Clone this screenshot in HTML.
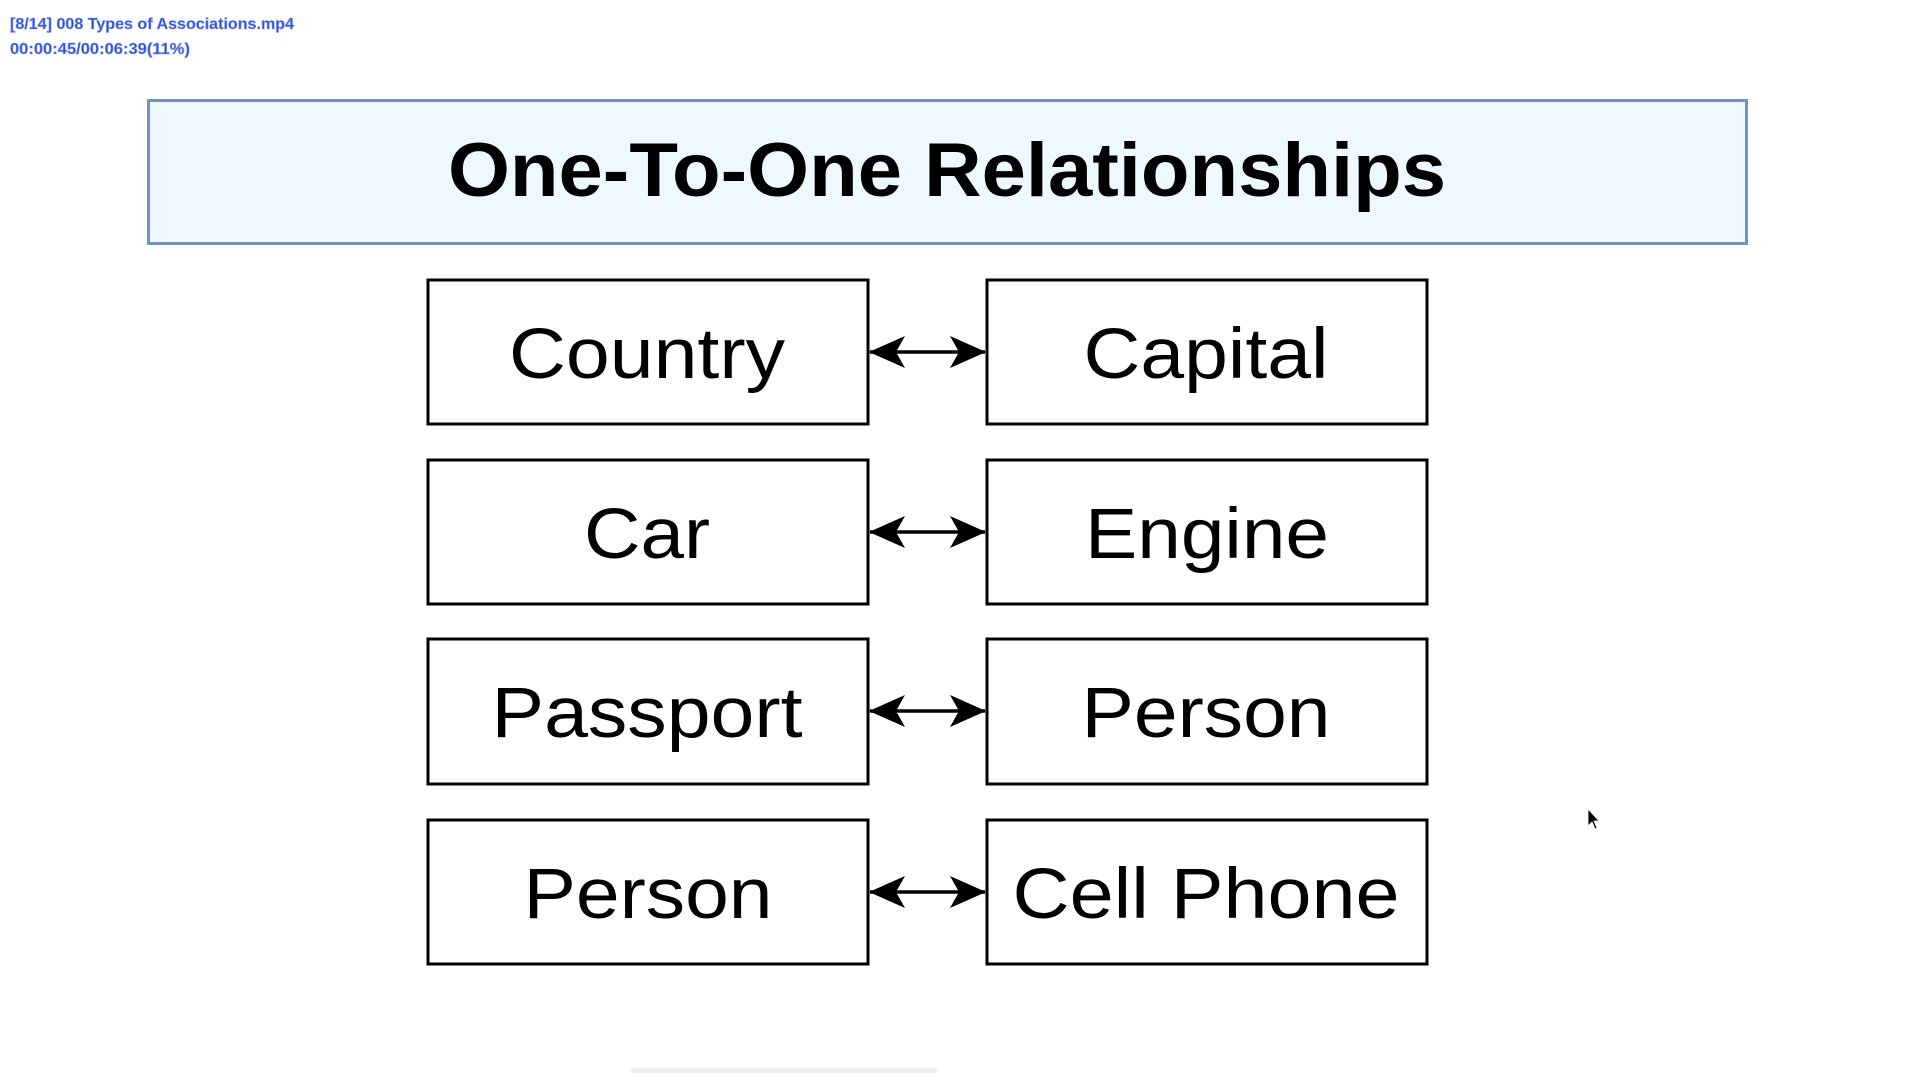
<!DOCTYPE html>
<html><head><meta charset="utf-8"><style>
html,body{margin:0;padding:0;background:#fff;width:1920px;height:1080px;overflow:hidden}
svg{display:block}
</style></head><body>
<svg width="1920" height="1080" viewBox="0 0 1920 1080" xmlns="http://www.w3.org/2000/svg" font-family="Liberation Sans, Arial, sans-serif">
<defs>
<marker id="ah" viewBox="0 0 36 32" refX="35" refY="16" markerWidth="36" markerHeight="32" markerUnits="userSpaceOnUse" orient="auto-start-reverse">
<path d="M0,0 L36,16 L0,32 L9,16 Z" fill="#000"/>
</marker>
</defs>
<text x="10" y="29" font-size="16" font-weight="bold" fill="#3450c8" stroke="#8aa0ff" stroke-width="0.6" textLength="284" lengthAdjust="spacingAndGlyphs">[8/14] 008 Types of Associations.mp4</text>
<text x="10" y="54" font-size="16" font-weight="bold" fill="#3450c8" stroke="#8aa0ff" stroke-width="0.6" textLength="180" lengthAdjust="spacingAndGlyphs">00:00:45/00:06:39(11%)</text>

<rect x="148.5" y="100.5" width="1598" height="143" fill="#eef8ff" stroke="#7590c2" stroke-width="3"/>
<text x="947" y="196" font-size="76" font-weight="bold" text-anchor="middle" textLength="998" lengthAdjust="spacingAndGlyphs">One-To-One Relationships</text>

<g fill="#fff" stroke="#000" stroke-width="3">
<rect x="428" y="280" width="440" height="144"/><rect x="987" y="280" width="440" height="144"/>
<rect x="428" y="460" width="440" height="144"/><rect x="987" y="460" width="440" height="144"/>
<rect x="428" y="639" width="440" height="145"/><rect x="987" y="639" width="440" height="145"/>
<rect x="428" y="820" width="440" height="144"/><rect x="987" y="820" width="440" height="144"/>
</g>
<g stroke="#000" stroke-width="3.5" marker-start="url(#ah)" marker-end="url(#ah)">
<line x1="870" y1="352" x2="985" y2="352"/>
<line x1="870" y1="532" x2="985" y2="532"/>
<line x1="870" y1="711" x2="985" y2="711"/>
<line x1="870" y1="892" x2="985" y2="892"/>
</g>
<g font-size="71" fill="#000" text-anchor="middle" lengthAdjust="spacingAndGlyphs">
<text x="647" y="378" textLength="276" lengthAdjust="spacingAndGlyphs">Country</text>
<text x="1206" y="378" textLength="245" lengthAdjust="spacingAndGlyphs">Capital</text>
<text x="647" y="558" textLength="126" lengthAdjust="spacingAndGlyphs">Car</text>
<text x="1207" y="558" textLength="244" lengthAdjust="spacingAndGlyphs">Engine</text>
<text x="647" y="737" textLength="311" lengthAdjust="spacingAndGlyphs">Passport</text>
<text x="1206" y="737" textLength="249" lengthAdjust="spacingAndGlyphs">Person</text>
<text x="648" y="918" textLength="249" lengthAdjust="spacingAndGlyphs">Person</text>
<text x="1206" y="918" textLength="387" lengthAdjust="spacingAndGlyphs">Cell Phone</text>
</g>
<path d="M1588,809 L1588,826 L1592,822 L1595,829 L1597,828 L1594,821 L1599,821 Z" fill="#000" stroke="#fff" stroke-width="0.8"/>
<rect x="631" y="1068" width="306" height="5" rx="2.5" fill="#eee"/>
</svg>
</body></html>
